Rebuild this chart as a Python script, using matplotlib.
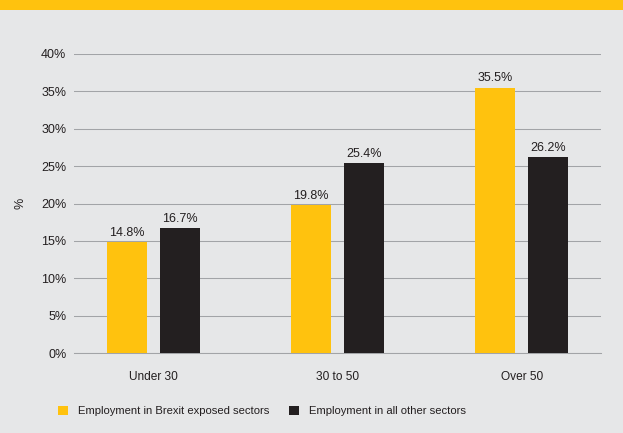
import matplotlib.pyplot as plt
import numpy as np
from matplotlib.patches import Rectangle

plt.rcParams['font.family'] = ['Liberation Sans', 'DejaVu Sans']

age_groups = ['Under 30', '30 to 50', 'Over 50']
brexit_exposed = [14.8, 19.8, 35.5]
all_other = [16.7, 25.4, 26.2]
series_names = ['Employment in Brexit exposed sectors', 'Employment in all other sectors']
y_ticks = [0, 5, 10, 15, 20, 25, 30, 35, 40]

yellow = '#FFC20E'
dark = '#231F20'
bg = '#E6E7E8'
grid_col = '#A2A4A7'
text_col = '#231F20'

fig = plt.figure(figsize=(6.23, 4.33), dpi=100)
fig.patch.set_facecolor(bg)

# yellow header strip across the top
fig.patches.append(Rectangle((0, 1 - 10 / 433), 1, 10 / 433, transform=fig.transFigure,
                             facecolor=yellow, edgecolor='none', zorder=0))

ax = fig.add_axes([74 / 623, 80 / 433, 527 / 623, 299 / 433])
ax.set_facecolor(bg)

x = np.arange(len(age_groups))
w = 0.217
off = 0.144
b1 = ax.bar(x - off, brexit_exposed, w, color=yellow, label=series_names[0], zorder=3)
b2 = ax.bar(x + off, all_other, w, color=dark, label=series_names[1], zorder=3)

for bars, vals in [(b1, brexit_exposed), (b2, all_other)]:
    for rect, v in zip(bars, vals):
        ax.annotate(f'{v:.1f}%', (rect.get_x() + rect.get_width() / 2, v),
                    xytext=(0, 2.5), textcoords='offset points', ha='center', va='bottom',
                    fontsize=9, color=text_col)

ax.set_xlim(-0.43, 2.43)
ax.set_ylim(0, 40)
ax.set_yticks(y_ticks)
ax.set_yticklabels([f'{t}%' for t in y_ticks])
ax.set_xticks(x)
ax.set_xticklabels(age_groups)
ax.yaxis.grid(True, color=grid_col, linewidth=0.75, zorder=0)
ax.set_axisbelow(True)
for s in ['top', 'right', 'left']:
    ax.spines[s].set_visible(False)
ax.spines['bottom'].set_color(grid_col)
ax.spines['bottom'].set_linewidth(0.75)
ax.tick_params(axis='both', length=0, colors=text_col)
ax.tick_params(axis='y', pad=5.5, labelsize=9)
ax.tick_params(axis='x', pad=13, labelsize=8.6)
ax.set_ylabel('%', fontsize=9, color=text_col)
ax.yaxis.set_label_coords(-0.091, 0.5)

fig.legend(loc='center left', bbox_to_anchor=(58 / 623, 1 - 411 / 433), ncol=2,
           frameon=False, fontsize=8.1, handlelength=0.9, handleheight=0.9,
           columnspacing=1.7, handletextpad=0.9, borderpad=0, borderaxespad=0,
           labelcolor=text_col)

fig.savefig('out.png', dpi=100, facecolor=bg)
